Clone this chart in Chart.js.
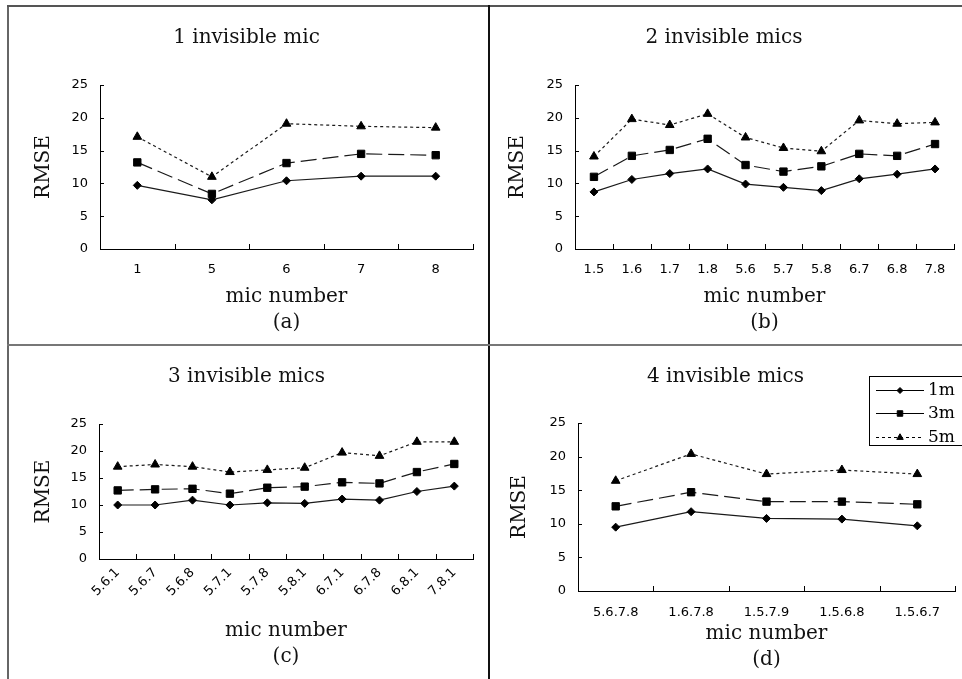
<!DOCTYPE html>
<html>
<head>
<meta charset="utf-8">
<script src="https://cdn.jsdelivr.net/npm/chart.js@4.4.1/dist/chart.umd.min.js"></script>
<style>
  body { margin: 0; background: #fff; }
  #wrap { position: relative; width: 962px; height: 679px; overflow: hidden; background: #fff; }
  canvas { position: absolute; }
  .ln { position: absolute; }
</style>
</head>
<body>
<div id="wrap">
  <canvas id="chartA" width="488" height="344" style="left:0;top:0"></canvas>
  <canvas id="chartB" width="472" height="344" style="left:490px;top:0"></canvas>
  <canvas id="chartC" width="488" height="333" style="left:0;top:346px"></canvas>
  <canvas id="chartD" width="472" height="333" style="left:490px;top:346px"></canvas>
  <!-- panel frame -->
  <div class="ln" style="left:7px;top:5px;width:2px;height:674px;background:#666"></div>
  <div class="ln" style="left:7px;top:5px;width:955px;height:2px;background:#555"></div>
  <div class="ln" style="left:488px;top:5px;width:2px;height:674px;background:#111"></div>
  <div class="ln" style="left:7px;top:344px;width:955px;height:2px;background:#777"></div>
</div>
<script>
const seriesNames = ['1m', '3m', '5m'];
const yMin = 0, yMax = 25, yStep = 5;

// (a) 1 invisible mic
const micsA = ['1', '5', '6', '7', '8'];
const a1m = [9.7, 7.5, 10.4, 11.1, 11.1];
const a3m = [13.2, 8.4, 13.1, 14.5, 14.3];
const a5m = [17.1, 11.0, 19.1, 18.7, 18.5];

// (b) 2 invisible mics
const micsB = ['1.5', '1.6', '1.7', '1.8', '5.6', '5.7', '5.8', '6.7', '6.8', '7.8'];
const b1m = [8.7, 10.6, 11.5, 12.2, 9.9, 9.4, 8.9, 10.7, 11.4, 12.2];
const b3m = [11.0, 14.2, 15.1, 16.8, 12.8, 11.8, 12.6, 14.5, 14.2, 16.0];
const b5m = [14.1, 19.8, 18.9, 20.6, 17.0, 15.4, 14.9, 19.6, 19.1, 19.3];

// (c) 3 invisible mics
const micsC = ['5.6.1', '5.6.7', '5.6.8', '5.7.1', '5.7.8', '5.8.1', '6.7.1', '6.7.8', '6.8.1', '7.8.1'];
const c1m = [10.0, 10.0, 10.9, 10.0, 10.4, 10.3, 11.1, 10.9, 12.5, 13.5];
const c3m = [12.7, 12.9, 13.0, 12.1, 13.2, 13.4, 14.2, 14.0, 16.1, 17.6];
const c5m = [17.1, 17.5, 17.1, 16.1, 16.5, 16.9, 19.7, 19.1, 21.7, 21.7];

// (d) 4 invisible mics
const micsD = ['5.6.7.8', '1.6.7.8', '1.5.7.9', '1.5.6.8', '1.5.6.7'];
const d1m = [9.5, 11.8, 10.8, 10.7, 9.7];
const d3m = [12.6, 14.7, 13.3, 13.3, 12.9];
const d5m = [16.4, 20.4, 17.4, 18.0, 17.4];

const serif = 'DejaVu Serif';
const sans = 'DejaVu Sans';

// tick marks drawn inside the plot, like the original
const innerTicks = {
    id: 'innerTicks',
    afterDraw(chart) {
        const { ctx, chartArea: a, scales: { x, y } } = chart;
        ctx.save();
        ctx.strokeStyle = '#000';
        ctx.lineWidth = 1;
        ctx.beginPath();
        y.ticks.forEach((t, i) => {
            const py = Math.round(y.getPixelForTick(i)) + 0.5;
            ctx.moveTo(a.left, py);
            ctx.lineTo(a.left + 4, py);
        });
        x.ticks.forEach((t, i) => {
            const px = Math.round(x.getPixelForValue(i + 0.5)) + 0.5;
            ctx.moveTo(px, a.bottom);
            ctx.lineTo(px, a.bottom - 5);
        });
        ctx.stroke();
        ctx.restore();
    }
};

// boxed legend in the corner of panel (d)
const boxLegend = {
    id: 'boxLegend',
    afterDraw(chart, args, opts) {
        if (!opts.show) return;
        const ctx = chart.ctx;
        ctx.save();
        ctx.strokeStyle = '#000';
        ctx.lineWidth = 1;
        ctx.strokeRect(opts.left + 0.5, opts.top + 0.5, opts.width, opts.height);
        ctx.font = '17px "' + serif + '"';
        ctx.textBaseline = 'middle';
        chart.data.datasets.forEach((ds, i) => {
            const y = opts.rows[i] + 0.5;
            ctx.strokeStyle = '#000';
            ctx.setLineDash(i === 2 ? ds.borderDash : []);
            ctx.beginPath();
            ctx.moveTo(opts.x0, y);
            ctx.lineTo(opts.x1, y);
            ctx.stroke();
            ctx.setLineDash([]);
            ctx.fillStyle = '#000';
            Chart.helpers.drawPoint(ctx, { pointStyle: ds.pointStyle, radius: ds.pointRadius * 0.75, borderWidth: 1, rotation: 0 }, (opts.x0 + opts.x1) / 2, y);
            ctx.fillText(ds.label, opts.x1 + 4, y);
        });
        ctx.restore();
    }
};

function makeDatasets(v1, v3, v5) {
    const base = { borderColor: '#1a1a1a', borderWidth: 1.2, backgroundColor: '#000', pointBorderColor: '#000', pointBorderWidth: 1, tension: 0, fill: false };
    return [
        { ...base, label: seriesNames[0], data: v1, pointStyle: 'rectRot', pointRadius: 4 },
        { ...base, label: seriesNames[1], data: v3, pointStyle: 'rect', pointRadius: 5.2, borderDash: [16, 6] },
        { ...base, label: seriesNames[2], data: v5, pointStyle: 'triangle', pointRadius: 5, borderDash: [3, 3] },
    ];
}

function makePanel(id, title, labels, v1, v3, v5, sub, L, legendOpts) {
    const ctx = document.getElementById(id).getContext('2d');
    return new Chart(ctx, {
        type: 'line',
        data: { labels: labels, datasets: makeDatasets(v1, v3, v5) },
        plugins: [innerTicks, boxLegend],
        options: {
            responsive: false,
            animation: false,
            layout: { padding: { left: L.padL, right: L.padR, top: 0, bottom: 0 } },
            plugins: {
                legend: { display: false },
                tooltip: { enabled: false },
                title: {
                    display: true,
                    text: title,
                    color: '#111',
                    font: { family: serif, size: 20, weight: 'normal', lineHeight: 1.2 },
                    padding: { top: L.tTop, bottom: L.tBot },
                },
                boxLegend: legendOpts || { show: false },
            },
            scales: {
                x: {
                    offset: true,
                    grid: { display: false, drawTicks: false },
                    border: { display: true, color: '#000', width: 1 },
                    ticks: {
                        color: '#000',
                        font: { family: sans, size: 13 },
                        padding: L.tickPad,
                        autoSkip: false,
                        maxRotation: L.rot,
                        minRotation: L.rot,
                    },
                    title: {
                        display: true,
                        text: ['mic number', sub],
                        color: '#111',
                        font: { family: serif, size: 20, weight: 'normal', lineHeight: 1.3 },
                        padding: { top: 0, bottom: L.xtB },
                    },
                    afterFit: (s) => { s.height = L.xH; },
                },
                y: {
                    min: yMin,
                    max: yMax,
                    grid: { display: false, drawTicks: false },
                    border: { display: true, color: '#000', width: 1 },
                    ticks: { stepSize: yStep, color: '#000', font: { family: sans, size: 13 }, padding: 12 },
                    title: {
                        display: true,
                        text: 'RMSE',
                        color: '#111',
                        font: { family: serif, size: 20, weight: 'normal', lineHeight: 1.2 },
                        padding: { top: 12, bottom: 0 },
                    },
                    afterFit: (s) => { s.width = L.yW; },
                },
            },
        },
    });
}

makePanel('chartA', '1 invisible mic', micsA, a1m, a3m, a5m, '(a)',
    { padL: 20, padR: 15, yW: 80, xH: 95, tTop: 26, tBot: 35, xtB: 8, tickPad: 13, rot: 0 });
makePanel('chartB', '2 invisible mics', micsB, b1m, b3m, b5m, '(b)',
    { padL: 4, padR: 8, yW: 81, xH: 95, tTop: 26, tBot: 35, xtB: 8, tickPad: 13, rot: 0 });
makePanel('chartC', '3 invisible mics', micsC, c1m, c3m, c5m, '(c)',
    { padL: 20, padR: 15, yW: 79, xH: 120, tTop: 19, tBot: 35, xtB: 9, tickPad: 6, rot: 45 });
makePanel('chartD', '4 invisible mics', micsD, d1m, d3m, d5m, '(d)',
    { padL: 6, padR: 7, yW: 82, xH: 88, tTop: 19, tBot: 34, xtB: 6, tickPad: 14, rot: 0 },
    { show: true, left: 379, top: 30, width: 100, height: 69, rows: [44, 67, 91], x0: 386, x1: 434 });
</script>
</body>
</html>
